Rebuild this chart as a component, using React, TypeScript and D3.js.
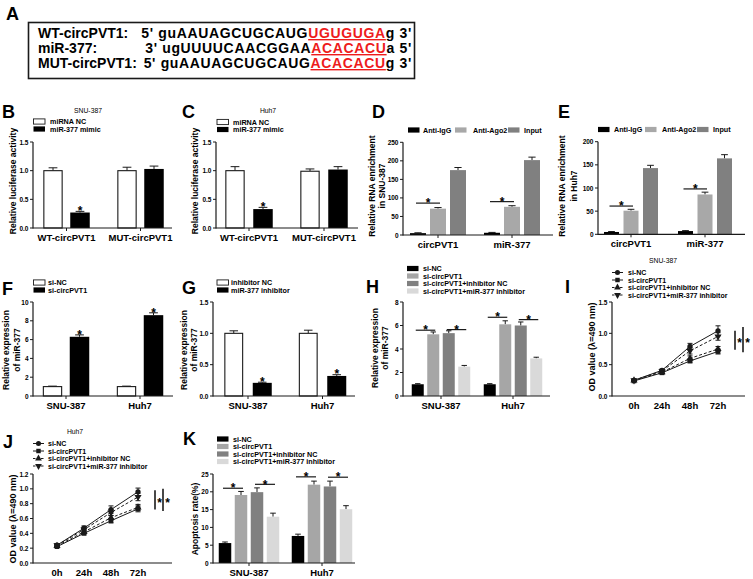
import React from 'react';
import * as d3 from 'd3';

const FF = "'Liberation Sans', Arial, Helvetica, sans-serif";

// ---------- Panel A ----------
const seqLabels = ['WT-circPVT1:', 'miR-377:', 'MUT-circPVT1:'];
const seqPre = ["5' guAAUAGCUGCAUG", "3' ugUUUUCAACGGAA", "5' guAAUAGCUGCAUG"];
const seqSite = ['UGUGUGA', 'ACACACU', 'ACACACU'];
const seqPost = ["g 3'", "a 5'", "g 3'"];

// ---------- Panel B / C (luciferase) ----------
const lucGroups = ['WT-circPVT1', 'MUT-circPVT1'];
const lucSeries = ['miRNA NC', 'miR-377 mimic'];
const bValues = [[1.0, 1.0], [0.27, 1.03]];
const bErrors = [[0.05, 0.06], [0.02, 0.05]];
const bStars = [[false, false], [true, false]];
const cValues = [[1.0, 0.99], [0.33, 1.02]];
const cErrors = [[0.07, 0.04], [0.03, 0.05]];
const cStars = [[false, false], [true, false]];

// ---------- Panel D / E (RIP) ----------
const ripGroups = ['circPVT1', 'miR-377'];
const ripSeries = ['Anti-IgG', 'Anti-Ago2', 'Input'];
const dValues = [[5, 6], [71, 76], [175, 202]];
const dErrors = [[1, 1], [3, 3], [7, 8]];
const dCompare = [[0, 0, 1, 86], [1, 0, 1, 90]];
const eValues = [[5, 7], [51, 86], [143, 164]];
const eErrors = [[1, 1], [3, 5], [6, 8]];
const eCompare = [[0, 0, 1, 61], [1, 0, 1, 98]];

// ---------- Panel F / G ----------
const cellGroups = ['SNU-387', 'Huh7'];
const fSeries = ['si-NC', 'si-circPVT1'];
const fValues = [[1.0, 1.0], [6.3, 8.6]];
const fErrors = [[0.05, 0.05], [0.2, 0.25]];
const fStars = [[false, false], [true, true]];
const gSeries = ['inhibitor NC', 'miR-377  inhibitor'];
const gValues = [[1.0, 1.0], [0.21, 0.32]];
const gErrors = [[0.04, 0.05], [0.01, 0.02]];
const gStars = [[false, false], [true, true]];

// ---------- Panel H / K ----------
const rescueSeries = ['si-NC', 'si-circPVT1', 'si-circPVT1+inhibitor NC', 'si-circPVT1+miR-377 inhibitor'];
const hValues = [[1.0, 1.0], [5.25, 6.1], [5.35, 6.0], [2.5, 3.2]];
const hErrors = [[0.05, 0.05], [0.2, 0.3], [0.2, 0.3], [0.1, 0.1]];
const hCompare = [[0, 0, 1, 5.6], [0, 2, 3, 5.65], [1, 0, 1, 6.7], [1, 2, 3, 6.5]];
const kValues = [[5.6, 7.6], [19.1, 22.0], [19.9, 21.5], [13.0, 15.1]];
const kErrors = [[0.3, 0.5], [1.0, 1.0], [1.2, 1.5], [1.0, 1.0]];
const kCompare = [[0, 0, 1, 21.0], [0, 2, 3, 22.1], [1, 0, 1, 24.2], [1, 2, 3, 24.1]];

// ---------- Panel I / J (CCK-8) ----------
const timePoints = ['0h', '24h', '48h', '72h'];
const iValues = [
  [0.25, 0.41, 0.79, 1.04],
  [0.24, 0.37, 0.56, 0.71],
  [0.25, 0.38, 0.60, 0.75],
  [0.25, 0.40, 0.72, 0.95],
];
const iErrors = [
  [0.01, 0.02, 0.05, 0.08],
  [0.01, 0.02, 0.03, 0.04],
  [0.01, 0.02, 0.04, 0.04],
  [0.01, 0.02, 0.05, 0.06],
];
const iBrackets = [[0.74, 1.04], [0.70, 1.1]];
const jValues = [
  [0.24, 0.47, 0.72, 0.96],
  [0.22, 0.40, 0.57, 0.73],
  [0.23, 0.42, 0.61, 0.75],
  [0.24, 0.45, 0.68, 0.89],
];
const jErrors = [
  [0.02, 0.03, 0.05, 0.05],
  [0.01, 0.02, 0.03, 0.04],
  [0.01, 0.02, 0.03, 0.04],
  [0.02, 0.03, 0.04, 0.05],
];
const jBrackets = [[0.72, 0.98], [0.70, 1.0]];

const AX = '#1a1a1a';
const STAR = 12;

function YAxis({ x, y, ticks, fmt }: any) {
  const [b, t] = y.range();
  return (
    <g>
      <line x1={x} x2={x} y1={b + 0.6} y2={t} stroke={AX} strokeWidth={1.2} />
      {ticks.map((v: number) => (
        <g key={v}>
          <line x1={x - 3} x2={x} y1={y(v)} y2={y(v)} stroke={AX} strokeWidth={1} />
          <text x={x - 4.5} y={y(v)} textAnchor="end" dominantBaseline="central" fontSize={6.5} fontWeight="bold">
            {fmt(v)}
          </text>
        </g>
      ))}
    </g>
  );
}

function YLabel({ x, y, lines, size = 8.5, gap = 10.5 }: any) {
  return (
    <g transform={`translate(${x},${y}) rotate(-90)`}>
      {lines.map((l: string, i: number) => (
        <text key={i} x={0} y={(i - (lines.length - 1) / 2) * gap} textAnchor="middle" dominantBaseline="central" fontSize={size} fontWeight="bold">
          {l}
        </text>
      ))}
    </g>
  );
}

function BoxLegend({ x, tx, rows, series, colors, horizontal, hx, htx, hy, size = 7.2 }: any) {
  return (
    <g>
      {series.map((s: string, i: number) => {
        const bx = horizontal ? hx[i] : x;
        const ttx = horizontal ? htx[i] : tx;
        const ry = horizontal ? hy : rows[i];
        const white = colors[i] === '#ffffff';
        return (
          <g key={s}>
            <rect x={bx} y={ry - 2.6} width={11.5} height={5.2} fill={colors[i]} stroke={white ? AX : 'none'} strokeWidth={0.9} />
            <text x={ttx} y={ry} dominantBaseline="central" fontSize={size} fontWeight="bold">{s}</text>
          </g>
        );
      })}
    </g>
  );
}

function BarPanel({ c }: any) {
  const y = d3.scaleLinear().domain([0, c.yMax]).range([c.yBottom, c.yTop]);
  const gx = d3.scalePoint<string>().domain(c.groups).range(c.groupRange);
  const n = c.values.length;
  const cx = (s: number, g: number) => (gx(c.groups[g]) as number) + (s - (n - 1) / 2) * c.step;
  const ticks = d3.range(0, c.yMax + c.tickStep / 2, c.tickStep);
  const fmt = d3.format(c.fmt);
  const capW = c.barW * 0.45;
  return (
    <g>
      {c.values.map((row: number[], s: number) =>
        row.map((v: number, g: number) => {
          const x = cx(s, g);
          const e = c.errors[s][g];
          const white = c.colors[s] === '#ffffff';
          return (
            <g key={`${s}-${g}`}>
              <line x1={x} x2={x} y1={y(v)} y2={y(v + e)} stroke={AX} strokeWidth={1} />
              <line x1={x - capW / 2} x2={x + capW / 2} y1={y(v + e)} y2={y(v + e)} stroke={AX} strokeWidth={1} />
              <rect
                x={x - c.barW / 2 + (white ? 0.6 : 0)}
                y={y(v)}
                width={c.barW - (white ? 1.2 : 0)}
                height={y(0) - y(v)}
                fill={c.colors[s]}
                stroke={white ? AX : 'none'}
                strokeWidth={1.1}
              />
              {c.stars && c.stars[s][g] && (
                <text x={x} y={y(v + e) + 3.8} textAnchor="middle" fontSize={STAR} fontWeight="bold">*</text>
              )}
            </g>
          );
        })
      )}
      {(c.compares || []).map((cp: number[], i: number) => {
        const [g, a, b, v] = cp;
        const xa = cx(a, g) - 2;
        const xb = cx(b, g) + 2;
        return (
          <g key={i}>
            <line x1={xa} x2={xb} y1={y(v)} y2={y(v)} stroke={AX} strokeWidth={1.2} />
            <text x={(xa + xb) / 2} y={y(v) + 4.2} textAnchor="middle" fontSize={STAR} fontWeight="bold">*</text>
          </g>
        );
      })}
      <line x1={c.x0} x2={c.x1} y1={c.yBottom} y2={c.yBottom} stroke={AX} strokeWidth={1.2} />
      {c.groups.map((gname: string) => (
        <g key={gname}>
          <line x1={gx(gname)} x2={gx(gname)} y1={c.yBottom} y2={c.yBottom + 3} stroke={AX} strokeWidth={1} />
          <text x={gx(gname)} y={c.yBottom + 12.5} textAnchor="middle" fontSize={9.5} fontWeight="bold">{gname}</text>
        </g>
      ))}
      <YAxis x={c.x0} y={y} ticks={ticks} fmt={fmt} />
    </g>
  );
}

const symTypes = [d3.symbolCircle, d3.symbolSquare, d3.symbolTriangle, d3.symbolTriangle];
const symRot = [0, 0, 0, 180];

function Marker({ x, y, i, scale = 1 }: any) {
  const p = d3.symbol().type(symTypes[i]).size(22 * scale)();
  return <path d={p as string} transform={`translate(${x},${y}) rotate(${symRot[i]})`} fill={AX} />;
}

function LinePanel({ c }: any) {
  const y = d3.scaleLinear().domain([0, c.yMax]).range([c.yBottom, c.yTop]);
  const x = d3.scalePoint<string>().domain(timePoints).range(c.xRange);
  const ticks = d3.range(0, c.yMax + c.tickStep / 2, c.tickStep);
  const fmt = d3.format('.1f');
  const line = d3.line<number>().x((_, i) => x(timePoints[i]) as number).y((v) => y(v));
  return (
    <g>
      {c.values.map((row: number[], s: number) => (
        <path key={s} d={line(row) as string} fill="none" stroke={AX} strokeWidth={1} strokeDasharray={s >= 2 ? '3,2' : undefined} />
      ))}
      {c.values.map((row: number[], s: number) =>
        row.map((v: number, i: number) => {
          const px = x(timePoints[i]) as number;
          const e = c.errors[s][i];
          return (
            <g key={`${s}-${i}`}>
              <line x1={px} x2={px} y1={y(v - e)} y2={y(v + e)} stroke={AX} strokeWidth={1} />
              <line x1={px - 2.5} x2={px + 2.5} y1={y(v + e)} y2={y(v + e)} stroke={AX} strokeWidth={1} />
              <line x1={px - 2.5} x2={px + 2.5} y1={y(v - e)} y2={y(v - e)} stroke={AX} strokeWidth={1} />
              <Marker x={px} y={y(v)} i={s} />
            </g>
          );
        })
      )}
      {c.brackets.map((b: number[], i: number) => (
        <g key={i}>
          <line x1={c.bracketX[i]} x2={c.bracketX[i]} y1={y(b[0])} y2={y(b[1])} stroke={AX} strokeWidth={1.6} />
          <text x={c.bracketX[i] + 4.5} y={y((b[0] + b[1]) / 2) + 7} textAnchor="middle" fontSize={STAR} fontWeight="bold">*</text>
        </g>
      ))}
      <line x1={c.x0} x2={c.x1} y1={c.yBottom} y2={c.yBottom} stroke={AX} strokeWidth={1.2} />
      {timePoints.map((t) => (
        <text key={t} x={x(t)} y={c.yBottom + 12.5} textAnchor="middle" fontSize={9.5} fontWeight="bold">{t}</text>
      ))}
      <YAxis x={c.x0} y={y} ticks={ticks} fmt={fmt} />
    </g>
  );
}

function LineLegend({ x, tx, rows }: any) {
  return (
    <g>
      {rescueSeries.map((s, i) => (
        <g key={s}>
          <line x1={x} x2={x + 11} y1={rows[i]} y2={rows[i]} stroke={AX} strokeWidth={1} strokeDasharray={i >= 2 ? '2.5,1.5' : undefined} />
          <Marker x={x + 5.5} y={rows[i]} i={i} scale={0.9} />
          <text x={tx} y={rows[i]} dominantBaseline="central" fontSize={7} fontWeight="bold">{s}</text>
        </g>
      ))}
    </g>
  );
}

function Letter({ x, y, t }: any) {
  return <text x={x} y={y} fontSize={18} fontWeight="bold">{t}</text>;
}

const WB = ['#ffffff', '#000000'];
const RIPC = ['#000000', '#a8a8a8', '#808080'];
const RESC = ['#000000', '#a6a6a6', '#808080', '#d9d9d9'];

export default function App() {
  const seqRowsY = [38, 53, 68];
  return (
    <svg width={753} height={579} style={{ position: 'absolute', left: 0, top: 0, background: '#fff' }} fontFamily={FF}>
      <rect width={753} height={579} fill="#fff" />
      {/* A */}
      <Letter x={6} y={20} t="A" />
      <rect x={28.5} y={22.5} width={386} height={56} fill="none" stroke={AX} strokeWidth={1.6} />
      {seqLabels.map((l, i) => (
        <g key={l}>
          <text x={38} y={seqRowsY[i]} fontSize={14} fontWeight="bold">{l}</text>
          <text x={412} y={seqRowsY[i]} fontSize={14} fontWeight="bold" textAnchor="end" letterSpacing={0.65}>
            <tspan>{seqPre[i]}</tspan>
            <tspan fill="#ee1c1c" style={{ textDecoration: 'underline' }}>{seqSite[i]}</tspan>
            <tspan>{seqPost[i]}</tspan>
          </text>
        </g>
      ))}

      {/* B */}
      <Letter x={2} y={118} t="B" />
      <text x={88} y={110} textAnchor="middle" dominantBaseline="central" fontSize={6.8}>SNU-387</text>
      <BoxLegend x={33.5} tx={50} rows={[121.5, 129]} series={lucSeries} colors={WB} />
      <YLabel x={13} y={181} lines={['Relative luciferase activity']} />
      <BarPanel c={{ x0: 33, x1: 172, yTop: 142, yBottom: 228, yMax: 1.5, tickStep: 0.5, fmt: '.1f', groupRange: [66.5, 140.5], barW: 19.5, step: 27, groups: lucGroups, values: bValues, errors: bErrors, colors: WB, stars: bStars }} />

      {/* C */}
      <Letter x={182} y={118} t="C" />
      <text x={268} y={110} textAnchor="middle" dominantBaseline="central" fontSize={6.8}>Huh7</text>
      <BoxLegend x={217} tx={233} rows={[122, 129.5]} series={lucSeries} colors={WB} />
      <YLabel x={195} y={181} lines={['Relative luciferase activity']} />
      <BarPanel c={{ x0: 216, x1: 358, yTop: 142, yBottom: 228, yMax: 1.5, tickStep: 0.5, fmt: '.1f', groupRange: [249, 324], barW: 19.5, step: 28, groups: lucGroups, values: cValues, errors: cErrors, colors: WB, stars: cStars }} />

      {/* D */}
      <Letter x={372} y={118} t="D" />
      <BoxLegend horizontal hx={[408, 455, 508]} htx={[423, 473, 524]} hy={130} series={ripSeries} colors={RIPC} />
      <YLabel x={377} y={186} lines={['Relative RNA enrichment', 'in SNU-387']} />
      <BarPanel c={{ x0: 403, x1: 553, yTop: 142.3, yBottom: 235, yMax: 250, tickStep: 50, fmt: 'd', groupRange: [438, 512], barW: 16, step: 20, groups: ripGroups, values: dValues, errors: dErrors, colors: RIPC, compares: dCompare }} />

      {/* E */}
      <Letter x={558} y={118} t="E" />
      <BoxLegend horizontal hx={[598, 645, 697]} htx={[614, 662, 713]} hy={129.5} series={ripSeries} colors={RIPC} />
      <YLabel x={568} y={186} lines={['Relative RNA enrichment', 'in Huh7']} gap={12} />
      <BarPanel c={{ x0: 598, x1: 745, yTop: 141.7, yBottom: 234.3, yMax: 200, tickStep: 50, fmt: 'd', groupRange: [631, 705], barW: 15, step: 19.5, groups: ripGroups, values: eValues, errors: eErrors, colors: RIPC, compares: eCompare }} />

      {/* F */}
      <Letter x={2} y={295} t="F" />
      <BoxLegend x={33.5} tx={48} rows={[282.5, 290]} series={fSeries} colors={WB} />
      <YLabel x={11.5} y={350} lines={['Relative expression', 'of miR-377']} />
      <BarPanel c={{ x0: 33, x1: 173, yTop: 302, yBottom: 396, yMax: 10, tickStep: 2, fmt: 'd', groupRange: [66, 140], barW: 19.5, step: 27, groups: cellGroups, values: fValues, errors: fErrors, colors: WB, stars: fStars }} />

      {/* G */}
      <Letter x={182} y={294} t="G" />
      <BoxLegend x={217} tx={231} rows={[282.5, 290]} series={gSeries} colors={WB} />
      <YLabel x={189} y={350} lines={['Relative expression', 'of miR-377']} />
      <BarPanel c={{ x0: 213, x1: 355, yTop: 302, yBottom: 396, yMax: 1.5, tickStep: 0.5, fmt: '.1f', groupRange: [248, 322.5], barW: 19, step: 28.5, groups: cellGroups, values: gValues, errors: gErrors, colors: WB, stars: gStars }} />

      {/* H */}
      <Letter x={366} y={293} t="H" />
      <BoxLegend x={407} tx={423} rows={[268.5, 276, 283.5, 291]} series={rescueSeries} colors={RESC} />
      <YLabel x={380} y={348} lines={['Relative expression', 'of miR-377']} />
      <BarPanel c={{ x0: 403, x1: 550, yTop: 302, yBottom: 396, yMax: 8, tickStep: 2, fmt: 'd', groupRange: [441, 513], barW: 12, step: 15.5, groups: cellGroups, values: hValues, errors: hErrors, colors: RESC, compares: hCompare }} />

      {/* I */}
      <Letter x={565} y={293} t="I" />
      <text x={663} y={260} textAnchor="middle" dominantBaseline="central" fontSize={6.8}>SNU-387</text>
      <LineLegend x={612} tx={628} rows={[272.5, 280, 287.5, 295]} />
      <YLabel x={592} y={347} lines={['OD value (\u03bb=490 nm)']} size={9} />
      <LinePanel c={{ x0: 612, x1: 745, yTop: 302, yBottom: 396, yMax: 1.5, tickStep: 0.5, xRange: [634, 718], values: iValues, errors: iErrors, brackets: iBrackets, bracketX: [735, 743] }} />

      {/* J */}
      <Letter x={3} y={448} t="J" />
      <text x={75} y={431} textAnchor="middle" dominantBaseline="central" fontSize={6.8}>Huh7</text>
      <LineLegend x={33} tx={48} rows={[443.5, 451, 458.5, 466]} />
      <YLabel x={13} y={519} lines={['OD value (\u03bb=490 nm)']} size={9} />
      <LinePanel c={{ x0: 33, x1: 172, yTop: 474, yBottom: 563, yMax: 1.2, tickStep: 0.2, xRange: [57, 138], values: jValues, errors: jErrors, brackets: jBrackets, bracketX: [155, 163] }} />

      {/* K */}
      <Letter x={183} y={445} t="K" />
      <BoxLegend x={217} tx={233} rows={[439, 446.5, 454, 461.5]} series={rescueSeries} colors={RESC} />
      <YLabel x={195} y={519} lines={['Apoptosis rate(%)']} size={8.5} />
      <BarPanel c={{ x0: 213, x1: 355, yTop: 474, yBottom: 563, yMax: 25, tickStep: 5, fmt: 'd', groupRange: [249, 322], barW: 12.5, step: 16, groups: cellGroups, values: kValues, errors: kErrors, colors: RESC, compares: kCompare }} />
    </svg>
  );
}
